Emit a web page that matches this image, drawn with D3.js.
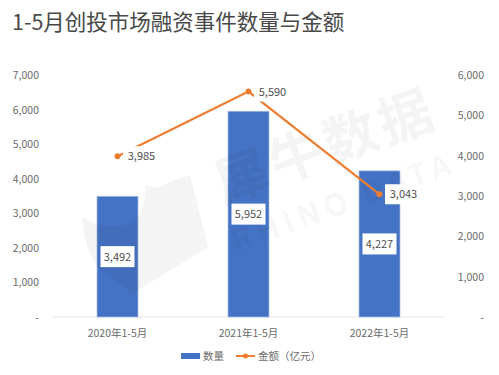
<!DOCTYPE html>
<html lang="zh">
<head>
<meta charset="UTF-8">
<script src="https://d3js.org/d3.v7.min.js"></script>
<style>
    body { margin: 0; background: #fff; }
    svg { display: block; font-family: 'Noto Sans CJK SC', 'Noto Sans', sans-serif; }
    .tick-label { font-size: 10.5px; fill: #6a6a6a; }
    .value-label { font-size: 11px; fill: #505050; }
</style>
</head>
<body>
<svg id="chart" width="499" height="375"></svg>
<script>
    const categories = ["2020年1-5月", "2021年1-5月", "2022年1-5月"];
    const counts = [3492, 5952, 4227];
    const amounts = [3985, 5590, 3043];
    const leftTicks = [0, 1000, 2000, 3000, 4000, 5000, 6000, 7000];
    const rightTicks = [0, 1000, 2000, 3000, 4000, 5000, 6000];

    const svg = d3.select("#chart");
    const fmt = v => v === 0 ? "-" : d3.format(",")(v);

    const x = d3.scaleBand().domain(categories).range([52, 445]).paddingInner(0.687).paddingOuter(0.3435);
    const yLeft = d3.scaleLinear().domain([0, 7000]).range([317, 75]);
    const yRight = d3.scaleLinear().domain([0, 6000]).range([317, 75]);
    const cx = d => x(d) + x.bandwidth() / 2;

    svg.append("text")
        .attr("x", 12).attr("y", 29.5)
        .attr("font-size", 21.5).attr("fill", "#484848")
        .text("1-5月创投市场融资事件数量与金额");

    // axis baseline
    svg.append("line")
        .attr("x1", 52).attr("x2", 445)
        .attr("y1", yLeft(0)).attr("y2", yLeft(0))
        .attr("stroke", "#e6e6e6").attr("stroke-width", 1);

    svg.selectAll(".left")
        .data(leftTicks).enter().append("text")
        .attr("class", "tick-label")
        .attr("x", 39).attr("y", d => yLeft(d) + 4)
        .attr("text-anchor", "end")
        .text(fmt);

    svg.selectAll(".right")
        .data(rightTicks).enter().append("text")
        .attr("class", "tick-label")
        .attr("x", 484).attr("y", d => yRight(d) + 4)
        .attr("text-anchor", "end")
        .text(fmt);

    svg.selectAll(".cat")
        .data(categories).enter().append("text")
        .attr("class", "tick-label")
        .attr("x", cx).attr("y", 337)
        .attr("text-anchor", "middle")
        .text(d => d);

    // bars
    svg.selectAll(".bar")
        .data(counts).enter().append("rect")
        .attr("x", (d, i) => x(categories[i]))
        .attr("y", d => yLeft(d))
        .attr("width", x.bandwidth())
        .attr("height", d => yLeft(0) - yLeft(d))
        .attr("fill", "#4472c4")
        .attr("stroke", "#a9c0e6").attr("stroke-width", 0.7);

    // watermark sits over the bars, so it has to be see-through
    const mark = svg.append("g").attr("fill", "#000").attr("fill-opacity", 0.045);
    mark.append("path")
        .attr("d", "M82 217 Q84 250 100 270 Q118 280 132 294 L208 247 L190 175 Q172 180 157 188 L145 185 Q146 200 140 215 Q118 238 82 217 Z");
    mark.append("text")
        .attr("transform", "translate(223,204) rotate(-20)")
        .attr("font-size", 54).attr("font-weight", 700).attr("letter-spacing", 4)
        .text("犀牛数据");
    mark.append("text")
        .attr("transform", "translate(236,253) rotate(-20)")
        .attr("font-size", 31).attr("font-weight", 700).attr("letter-spacing", 5)
        .text("RHINO DATA");

    // line
    const line = d3.line().x((d, i) => cx(categories[i])).y(d => yRight(d));
    svg.append("path")
        .datum(amounts)
        .attr("d", line)
        .attr("fill", "none")
        .attr("stroke", "#ed7d31").attr("stroke-width", 2.2);

    svg.selectAll(".dot")
        .data(amounts).enter().append("circle")
        .attr("cx", (d, i) => cx(categories[i]))
        .attr("cy", d => yRight(d))
        .attr("r", 3)
        .attr("fill", "#ed7d31");

    // labels with white boxes, they cut the line
    const labelBox = (bx, by, w, h, value) => {
        svg.append("rect").attr("x", bx).attr("y", by).attr("width", w).attr("height", h).attr("fill", "#fff");
        svg.append("text").attr("class", "value-label")
            .attr("x", bx + w / 2).attr("y", by + h / 2 + 4)
            .attr("text-anchor", "middle").text(d3.format(",")(value));
    };
    counts.forEach((v, i) => {
        const mid = (yLeft(v) + yLeft(0)) / 2;
        labelBox(cx(categories[i]) - 17, mid - 10.5, 34, 21, v);
    });
    amounts.forEach((v, i) => {
        labelBox(cx(categories[i]) + 5.5, yRight(v) - 10, 37, 20, v);
    });

    // legend
    svg.append("rect").attr("x", 181).attr("y", 353).attr("width", 19).attr("height", 6).attr("fill", "#4472c4");
    svg.append("text").attr("class", "tick-label").attr("x", 203).attr("y", 360).text("数量");
    svg.append("line").attr("x1", 236).attr("x2", 255).attr("y1", 356).attr("y2", 356).attr("stroke", "#ed7d31").attr("stroke-width", 2);
    svg.append("circle").attr("cx", 245.5).attr("cy", 356).attr("r", 2.5).attr("fill", "#ed7d31");
    svg.append("text").attr("class", "tick-label").attr("x", 258).attr("y", 360).text("金额（亿元）");
</script>
</body>
</html>
